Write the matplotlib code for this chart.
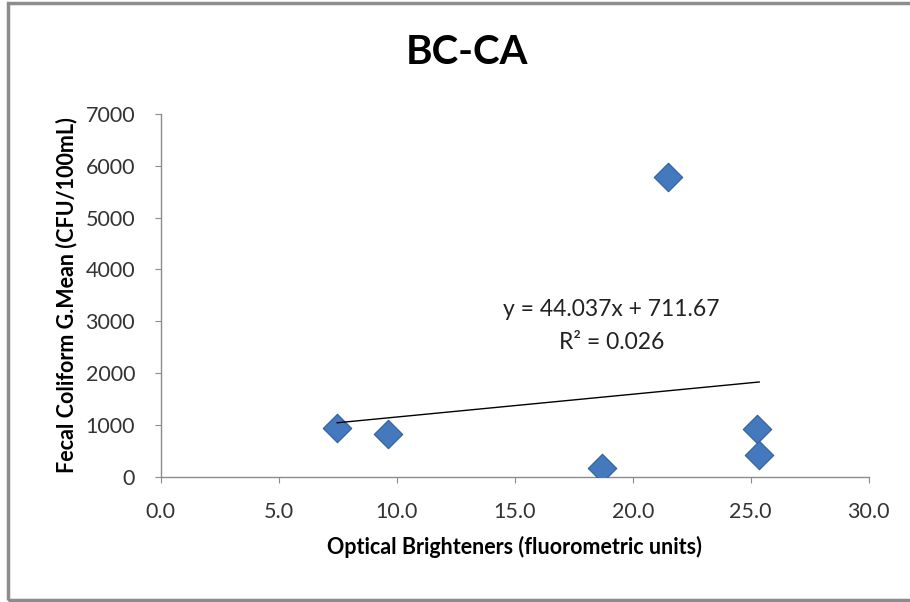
import matplotlib.pyplot as plt
import numpy as np
from matplotlib.patches import Rectangle

plt.rcParams['font.family'] = ['Lato', 'DejaVu Sans']

# optical brighteners vs fecal coliform geometric mean
ob_units = [7.48, 9.64, 18.71, 21.48, 25.28, 25.36]
fc_gmean = [934, 818, 162, 5776, 915, 419]

# linear trend as reported
slope = 44.037
intercept = 711.67
r_squared = 0.026

fig = plt.figure(figsize=(9.1, 6.02), dpi=100)
ax = fig.add_axes([0.1766, 0.2081, 0.9546 - 0.1766, 0.8106 - 0.2081])

# chart border
fig.patches.append(Rectangle((8 / 910, 2 / 602), 1.0, 1 - 5 / 602,
                             transform=fig.transFigure, fill=False,
                             edgecolor='#8c8c8c', linewidth=2.5))

ax.scatter(ob_units, fc_gmean, marker='D', s=210, color='#4479bd',
           edgecolors='#2f5f9e', linewidths=0.8, zorder=3)

xs = np.array([min(ob_units), max(ob_units)])
ax.plot(xs, slope * xs + intercept, color='black', linewidth=1.0, zorder=4)

ax.text(19.1, 3220, f'y = {slope}x + {intercept}', ha='center', va='center',
        fontsize=16.5, color='#222222')
ax.text(19.1, 2600, f'R² = {r_squared}', ha='center', va='center',
        fontsize=16.5, color='#222222')

ax.set_xlim(0, 30)
ax.set_ylim(0, 7000)
ax.set_xticks(np.arange(0, 31, 5))
ax.set_xticklabels([f'{v:.1f}' for v in np.arange(0, 31, 5)])
ax.set_yticks(np.arange(0, 7001, 1000))

for side in ['top', 'right']:
    ax.spines[side].set_visible(False)
for side in ['left', 'bottom']:
    ax.spines[side].set_color('#8c8c8c')
    ax.spines[side].set_linewidth(1.0)
ax.tick_params(axis='both', direction='out', length=4.5, color='#8c8c8c',
               labelsize=15.5, labelcolor='#333333', pad=14)

ax.set_xlabel('Optical Brighteners (fluorometric units)', fontsize=15.5,
              fontweight='bold', labelpad=10)
ax.set_ylabel('Fecal Coliform G.Mean (CFU/100mL)', fontsize=15.5,
              fontweight='bold', labelpad=6)

fig.text(0.513, 0.912, 'BC-CA', ha='center', va='center', fontsize=29,
         fontweight='bold')

fig.savefig('out.png', dpi=100)
